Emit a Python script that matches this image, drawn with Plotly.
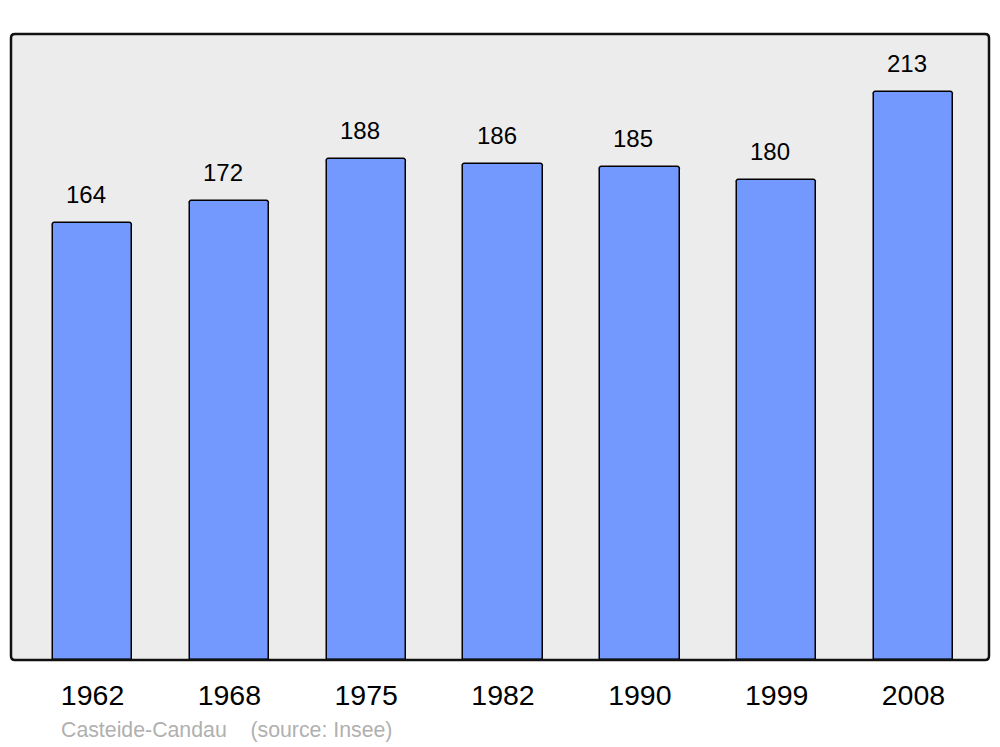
import plotly.graph_objects as go

years = ["1962", "1968", "1975", "1982", "1990", "1999", "2008"]
population = [164, 172, 188, 186, 185, 180, 213]
source_text = "Casteide-Candau\u00a0\u00a0\u00a0\u00a0(source: Insee)"

FONT = "Liberation Sans, Arial, sans-serif"

W, H = 1000, 747
L, R, T, B = 11, 11, 34, 87
pw, ph = W - L - R, H - T - B

fig = go.Figure()
fig.add_trace(go.Bar(
    x=years, y=population, width=0.58,
    marker=dict(color="#7399ff", line=dict(color="#000000", width=1.5), cornerradius=3),
    hoverinfo="skip",
))

for i, v in enumerate(population):
    fig.add_annotation(x=i, y=v, text=str(v), showarrow=False, xref="x", yref="y",
                       yanchor="bottom", xshift=-6.5, yshift=13,
                       font=dict(family=FONT, size=24, color="#000000"))

fig.add_annotation(x=(59 - L) / pw, y=(H - 730 - B) / ph, xref="paper", yref="paper",
                   text=source_text, showarrow=False, xanchor="left", yanchor="middle",
                   font=dict(family=FONT, size=21.3, color="#b0b0b0"))

rx, ry = 4 / pw, 4 / ph
path = (f"M {rx},0 L {1-rx},0 Q 1,0 1,{ry} L 1,{1-ry} Q 1,1 {1-rx},1 "
        f"L {rx},1 Q 0,1 0,{1-ry} L 0,{ry} Q 0,0 {rx},0 Z")
fig.add_shape(type="path", path=path, xref="paper", yref="paper",
              line=dict(color="#111111", width=2.5), layer="above")

fig.update_layout(
    width=W, height=H,
    margin=dict(l=L, r=R, t=T, b=B, pad=0, autoexpand=False),
    paper_bgcolor="#ffffff", plot_bgcolor="#ececec",
    showlegend=False,
    xaxis=dict(type="category", range=[-0.596, 6.552], showgrid=False, zeroline=False,
               showline=False, ticks="", tickfont=dict(family=FONT, size=28.5, color="#000000"),
               ticklabelstandoff=15, fixedrange=True),
    yaxis=dict(range=[0, 234.7], showgrid=False, zeroline=False, showline=False,
               showticklabels=False, ticks="", fixedrange=True),
    bargap=0,
)

fig.write_html("out.html", config={"displayModeBar": False},
               post_script="document.body.style.margin='0';")
